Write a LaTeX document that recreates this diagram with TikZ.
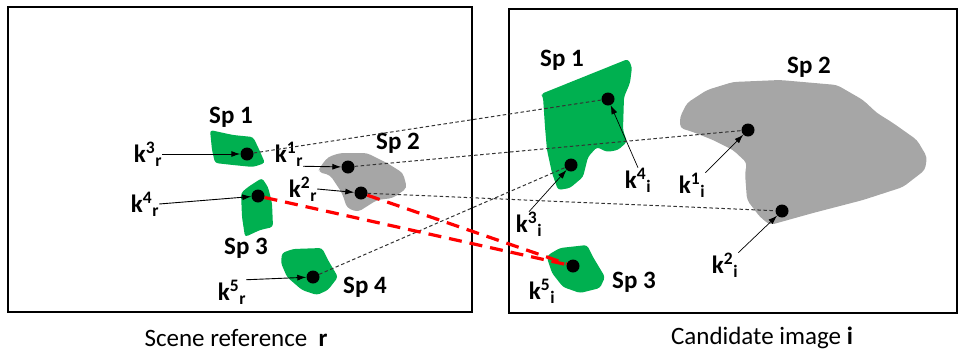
\documentclass[tikz,border=0pt]{standalone}
\usepackage{fontspec}
\setmainfont{Carlito}
\usetikzlibrary{arrows.meta}
\definecolor{spgreen}{HTML}{00B050}
\definecolor{spgray}{HTML}{A6A6A6}
\newcommand{\keyp}[2]{k\textsuperscript{#1}\textsubscript{#2}}

\begin{document}
\begin{tikzpicture}[
    x=1pt, y=-1pt,
    every node/.style={inner sep=0pt},
    frame/.style={draw=black, line width=2.5pt},
    green blob/.style={fill=spgreen, rounded corners=3pt},
    gray blob/.style={fill=spgray, rounded corners=4pt},
    kp/.style={circle, fill=black, minimum size=13pt},
    sp/.style={font=\fontsize{25}{28}\selectfont\bfseries},
    kl/.style={font=\fontsize{25}{28}\selectfont\bfseries},
    caption/.style={font=\fontsize{25}{28}\selectfont},
    ptr/.style={-{Latex[length=9pt,width=6pt]}, line width=0.9pt},
    match/.style={black!80, line width=1pt, dash pattern=on 3.5pt off 2.5pt},
    wrong/.style={red, line width=3.2pt, dash pattern=on 13pt off 8pt}
]
\useasboundingbox (0,0) rectangle (959,354);

% frames
\draw[frame] (8,7) rectangle (472,312);
\draw[frame] (509,9) rectangle (957,313);
\node[caption] (capr) at (236,338) {Scene reference \ \textbf{r}};
\node[caption] (capi) at (762,338) {Candidate image \textbf{i}};

% scene reference r
\fill[green blob] (210,130) -- (233,135) -- (253,137) -- (258,147) -- (265,163)
    -- (253,167) -- (233,165) -- (215,163) -- (212,150) -- cycle;
\fill[green blob] (262,178) -- (268,187) -- (272,203) -- (273,227) -- (260,230)
    -- (245,237) -- (242,217) -- (241,193) -- (248,187) -- cycle;
\fill[gray blob] (320,167) -- (328,157) -- (340,153) -- (367,153) -- (387,163)
    -- (403,173) -- (407,188) -- (393,198) -- (377,200) -- (358,212) -- (347,208)
    -- (342,193) -- (330,175) -- (318,172) -- cycle;
\fill[green blob] (282,253) -- (293,249) -- (322,248) -- (328,260) -- (338,277)
    -- (328,290) -- (317,295) -- (302,290) -- (287,277) -- (281,263) -- cycle;

% candidate image i
\fill[green blob] (541,94) -- (628,59) -- (632,67) -- (630,83) -- (624,97)
    -- (623,130) -- (627,142) -- (618,150) -- (607,152) -- (597,147) -- (588,157)
    -- (583,177) -- (570,188) -- (558,190) -- (552,173) -- (547,150) -- (545,127)
    -- (543,97) -- cycle;
\fill[gray blob] (680,117) -- (687,103) -- (707,90) -- (733,82) -- (780,80)
    -- (837,85) -- (863,100) -- (877,113) -- (893,123) -- (917,140) -- (927,157)
    -- (925,170) -- (903,187) -- (863,200) -- (813,213) -- (770,225) -- (760,217)
    -- (747,200) -- (745,173) -- (747,163) -- (733,150) -- (713,140) -- (693,132)
    -- (680,128) -- cycle;
\fill[green blob] (548,255) -- (560,248) -- (587,245) -- (593,257) -- (605,277)
    -- (600,288) -- (580,293) -- (563,287) -- (552,273) -- (547,258) -- cycle;

\node[sp] (spr1) at (231,117) {Sp 1};
\node[sp] (spr2) at (398,143) {Sp 2};
\node[sp] (spr3) at (246,248) {Sp 3};
\node[sp] (spr4) at (365,287) {Sp 4};
\node[sp] (spi1) at (562,60) {Sp 1};
\node[sp] (spi2) at (809,67) {Sp 2};
\node[sp] (spi3) at (634,282) {Sp 3};

% keypoints
\node[kp] (r1) at (348,167) {};
\node[kp] (r2) at (361,193) {};
\node[kp] (r3) at (247,154) {};
\node[kp] (r4) at (258,196) {};
\node[kp] (r5) at (313,277) {};
\node[kp] (i1) at (748,130) {};
\node[kp] (i2) at (782,211) {};
\node[kp] (i3) at (571,165) {};
\node[kp] (i4) at (608,99) {};
\node[kp] (i5) at (573,266) {};

\node[kl] (lr1) at (289,154) {\keyp{1}{r}};
\node[kl] (lr2) at (303,189) {\keyp{2}{r}};
\node[kl] (lr3) at (148,154) {\keyp{3}{r}};
\node[kl] (lr4) at (145,204) {\keyp{4}{r}};
\node[kl] (lr5) at (232,292) {\keyp{5}{r}};
\node[kl] (li1) at (692,185) {\keyp{1}{i}};
\node[kl] (li2) at (725,265) {\keyp{2}{i}};
\node[kl] (li3) at (529,224) {\keyp{3}{i}};
\node[kl] (li4) at (638,180) {\keyp{4}{i}};
\node[kl] (li5) at (542,291) {\keyp{5}{i}};

\draw[ptr] (lr1.south east) -- (r1);
\draw[ptr] (lr2.east) -- (r2);
\draw[ptr] (lr3.east) -- (r3);
\draw[ptr] (lr4.east) -- (r4);
\draw[ptr] (lr5.north east) -- (r5);
\draw[ptr, line width=0.7pt] (li1.north east) -- (i1);
\draw[ptr, line width=0.7pt] (li2.north east) -- (i2);
\draw[ptr, line width=0.7pt] (li3.north) -- (i3);
\draw[ptr, line width=0.7pt] (li4.north) -- (i4);

% matches
\draw[match] (r3) -- (i4);
\draw[match] (r1) -- (i1);
\draw[match] (r2) -- (i2);
\draw[match] (r5) -- (i3);
\draw[wrong] (r4) -- (i5);
\draw[wrong] (r2) -- (i5);
\end{tikzpicture}
\end{document}
